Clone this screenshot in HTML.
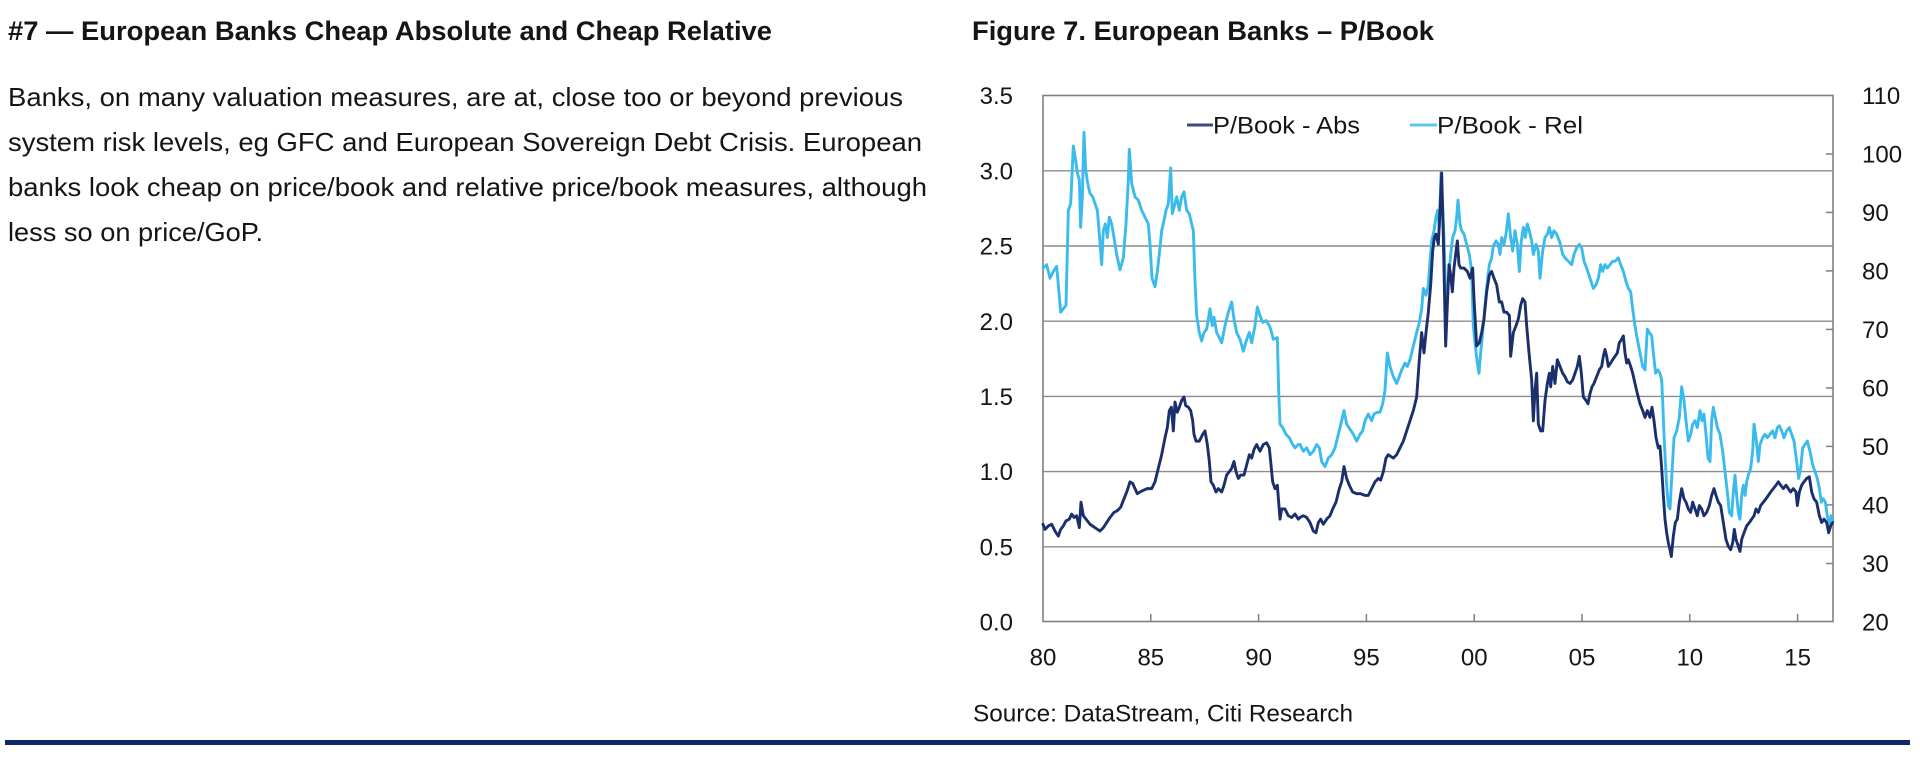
<!DOCTYPE html>
<html>
<head>
<meta charset="utf-8">
<style>
  html, body { margin: 0; padding: 0; background: #ffffff; }
  body { width: 1920px; height: 783px; overflow: hidden; }
  svg { display: block; }
  .t { font-family: "Liberation Sans Narrow", "Liberation Sans", Arial, sans-serif; fill: #151515; }
  .b { font-weight: bold; }
  .ax { font-family: "Liberation Sans", Arial, sans-serif; font-size: 24px; fill: #151515; }
</style>
</head>
<body>
<svg width="1920" height="783" viewBox="0 0 1920 783" xmlns="http://www.w3.org/2000/svg">
  <rect x="0" y="0" width="1920" height="783" fill="#ffffff"/>

  <!-- Left column text -->
  <text class="t b" x="8" y="40" font-size="27" textLength="764" lengthAdjust="spacingAndGlyphs">#7 — European Banks Cheap Absolute and Cheap Relative</text>
  <text class="t" x="8" y="106" font-size="26" textLength="895" lengthAdjust="spacingAndGlyphs">Banks, on many valuation measures, are at, close too or beyond previous</text>
  <text class="t" x="8" y="151" font-size="26" textLength="914" lengthAdjust="spacingAndGlyphs">system risk levels, eg GFC and European Sovereign Debt Crisis. European</text>
  <text class="t" x="8" y="196" font-size="26" textLength="919" lengthAdjust="spacingAndGlyphs">banks look cheap on price/book and relative price/book measures, although</text>
  <text class="t" x="8" y="241" font-size="26" textLength="255" lengthAdjust="spacingAndGlyphs">less so on price/GoP.</text>

  <!-- Figure title -->
  <text class="t b" x="972" y="40" font-size="27" textLength="462" lengthAdjust="spacingAndGlyphs">Figure 7. European Banks – P/Book</text>

  <!-- Gridlines -->
  <g stroke="#8c8c8c" stroke-width="1.4">
    <line x1="1043" y1="170.8" x2="1833" y2="170.8"/>
    <line x1="1043" y1="246" x2="1833" y2="246"/>
    <line x1="1043" y1="321.2" x2="1833" y2="321.2"/>
    <line x1="1043" y1="396.4" x2="1833" y2="396.4"/>
    <line x1="1043" y1="471.6" x2="1833" y2="471.6"/>
    <line x1="1043" y1="546.8" x2="1833" y2="546.8"/>
  </g>

  <!-- Plot border -->
  <rect x="1043" y="95.5" width="790" height="526" fill="none" stroke="#808080" stroke-width="1.6"/>

  <!-- X ticks -->
  <g stroke="#808080" stroke-width="1.5">
    <line x1="1150.8" y1="621.5" x2="1150.8" y2="614"/>
    <line x1="1258.6" y1="621.5" x2="1258.6" y2="614"/>
    <line x1="1366.4" y1="621.5" x2="1366.4" y2="614"/>
    <line x1="1474.2" y1="621.5" x2="1474.2" y2="614"/>
    <line x1="1582" y1="621.5" x2="1582" y2="614"/>
    <line x1="1689.8" y1="621.5" x2="1689.8" y2="614"/>
    <line x1="1797.6" y1="621.5" x2="1797.6" y2="614"/>
  </g>
  <!-- Right ticks -->
  <g stroke="#808080" stroke-width="1.5">
    <line x1="1833" y1="154" x2="1826" y2="154"/>
    <line x1="1833" y1="212.4" x2="1826" y2="212.4"/>
    <line x1="1833" y1="270.9" x2="1826" y2="270.9"/>
    <line x1="1833" y1="329.4" x2="1826" y2="329.4"/>
    <line x1="1833" y1="387.9" x2="1826" y2="387.9"/>
    <line x1="1833" y1="446.4" x2="1826" y2="446.4"/>
    <line x1="1833" y1="504.9" x2="1826" y2="504.9"/>
    <line x1="1833" y1="563.5" x2="1826" y2="563.5"/>
  </g>

  <!-- Left axis labels -->
  <g class="ax" text-anchor="end">
    <text x="1013" y="104.2">3.5</text>
    <text x="1013" y="179.4">3.0</text>
    <text x="1013" y="254.6">2.5</text>
    <text x="1013" y="329.8">2.0</text>
    <text x="1013" y="405">1.5</text>
    <text x="1013" y="480.2">1.0</text>
    <text x="1013" y="555.4">0.5</text>
    <text x="1013" y="630.6">0.0</text>
  </g>
  <!-- Right axis labels -->
  <g class="ax" text-anchor="start">
    <text x="1862" y="104">110</text>
    <text x="1862" y="162.6">100</text>
    <text x="1862" y="221">90</text>
    <text x="1862" y="279.5">80</text>
    <text x="1862" y="338">70</text>
    <text x="1862" y="396.5">60</text>
    <text x="1862" y="455">50</text>
    <text x="1862" y="513.5">40</text>
    <text x="1862" y="572">30</text>
    <text x="1862" y="630.6">20</text>
  </g>
  <!-- X labels -->
  <g class="ax" text-anchor="middle">
    <text x="1043" y="665.6">80</text>
    <text x="1150.8" y="665.6">85</text>
    <text x="1258.6" y="665.6">90</text>
    <text x="1366.4" y="665.6">95</text>
    <text x="1474.2" y="665.6">00</text>
    <text x="1582" y="665.6">05</text>
    <text x="1689.8" y="665.6">10</text>
    <text x="1797.6" y="665.6">15</text>
  </g>

  <!-- Series: P/Book - Rel (light blue) -->
  <g fill="none" stroke="#3bbbec" stroke-width="2.9" stroke-linejoin="round" stroke-linecap="round">
    <g transform="translate(1040,95) scale(0.333333,0.33933)">
      <polyline vector-effect="non-scaling-stroke" points="9,510 20,500 30,540 40,520 50,505 55,560 62,640 70,630 78,620 85,340 92,320 100,150 108,200 112,230 118,250 122,390 127,300 132,110 137,220 143,260 150,290 158,300 165,320 172,340 178,410 185,500 190,400 196,380 202,420 208,360 215,380 222,420 230,470 240,515 250,480 258,380 265,250 268,160 275,260 285,300 295,310 305,340 315,360 325,380 330,440 336,540 345,565 352,520 360,450 365,400 372,370 378,340 385,320 392,215 397,350 405,320 410,300 418,340 425,300 432,285 440,340 448,350 455,380 460,400 465,550 470,650 478,700 485,725 492,700 500,690 510,630 517,680 522,655 530,700 538,715 545,730 555,680 565,640 575,610 582,660 590,700 600,720 610,755 620,720 628,700 635,730 645,680 652,625 660,650 668,670 678,665 688,680 692,690 700,720 712,715 716,870 720,970 728,980 738,1000 748,1010 758,1030 765,1040 775,1030 780,1030"/>
    </g>
    <g transform="translate(1300,95) scale(0.333333,0.33933)">
      <polyline vector-effect="non-scaling-stroke" points="0,1030 10,1050 20,1040 30,1060 40,1050 50,1030 58,1040 65,1080 75,1095 85,1070 95,1060 105,1040 115,1000 125,960 132,930 140,970 150,985 160,1000 170,1020 180,1000 188,990 195,960 205,940 215,960 222,940 232,935 240,935 248,910 255,870 262,760 270,800 280,830 290,850 298,830 305,810 315,790 322,800 330,780 340,740 350,700 358,670 365,630 370,570 378,590 385,560 390,490 395,430 402,400 408,360 413,340 418,390 423,230 428,330 432,420 437,600 442,580 448,520 452,470 458,420 465,400 470,360 474,310 480,380 485,400 492,410 500,440 508,470 515,520 520,680 526,740 532,790 537,820 542,760 548,700 555,620 562,550 568,500 575,480 580,445 588,430 595,440 600,470 605,420 612,440 618,410 625,350 632,420 638,460 645,400 652,440 658,520 664,430 670,390 676,420 682,380 688,400 695,430 700,470 708,440 715,460 720,540 728,460 735,420 742,410 748,390 755,420 762,400 770,410 780,435"/>
    </g>
    <g transform="translate(1560,95) scale(0.333333,0.33933)">
      <polyline vector-effect="non-scaling-stroke" points="0,435 8,470 15,480 25,490 35,500 42,470 50,450 58,440 65,450 72,490 80,510 90,540 100,570 108,560 115,540 122,500 128,520 135,500 142,510 150,500 158,490 165,490 175,480 182,500 190,520 198,550 205,570 212,580 218,630 225,680 232,720 240,760 248,800 255,810 262,690 268,700 275,710 280,760 287,820 293,810 300,820 305,840 308,900 312,1000 316,1080 320,1150 325,1210 330,1220 335,1130 342,1010 350,990 358,950 365,860 372,900 378,960 385,1020 392,1000 398,970 405,960 412,980 420,930 426,960 432,940 438,1000 444,1070 450,1080 455,960 460,920 466,950 472,980 480,1000 488,1050 495,1110 502,1170 508,1230 515,1240 520,1170 525,1120 530,1180 535,1230 540,1250 545,1180 550,1150 555,1180 560,1140 565,1120 572,1100 578,1050 582,970 588,1010 595,1080 600,1030 608,1010 615,1000 622,1010 630,1000 638,990 645,1010 652,980 658,975 665,990 672,1010 680,990 688,980 695,1000 702,1020 710,1080 716,1130 722,1100 728,1040 735,1030 742,1020 750,1050 758,1090 765,1110 772,1130 778,1160 784,1200 790,1190 796,1200 802,1240 808,1270 813,1240 818,1250"/>
    </g>
  </g>

  <!-- Series: P/Book - Abs (dark navy) -->
  <g fill="none" stroke="#1b2f6d" stroke-width="2.9" stroke-linejoin="round" stroke-linecap="round">
    <g transform="translate(1040,95) scale(0.333333,0.33933)">
      <polyline vector-effect="non-scaling-stroke" points="9,1265 15,1280 25,1270 35,1265 45,1285 55,1300 62,1280 70,1270 78,1255 88,1250 95,1235 102,1245 110,1240 118,1275 123,1200 130,1240 138,1250 150,1265 165,1275 180,1285 190,1275 200,1260 210,1245 222,1230 232,1225 242,1215 252,1190 262,1165 270,1140 278,1145 285,1160 292,1175 300,1170 310,1165 322,1160 335,1160 345,1140 355,1100 365,1060 375,1010 382,980 388,930 394,920 400,990 405,905 412,935 418,920 425,900 432,890 437,915 445,920 452,930 458,960 462,1000 468,1020 478,1020 488,1000 495,990 502,1030 508,1080 513,1140 520,1150 528,1170 535,1160 545,1170 552,1150 560,1120 568,1110 575,1100 582,1080 588,1110 595,1130 602,1120 612,1120 620,1090 628,1060 635,1070 642,1045 650,1030 660,1050 670,1030 680,1025 688,1040 692,1080 698,1140 705,1160 712,1150 720,1250 725,1220 735,1220 745,1240 755,1245 765,1235 775,1250 780,1245"/>
    </g>
    <g transform="translate(1300,95) scale(0.333333,0.33933)">
      <polyline vector-effect="non-scaling-stroke" points="0,1245 10,1240 20,1245 30,1260 40,1285 48,1290 55,1260 62,1250 70,1265 80,1250 90,1240 98,1220 108,1200 118,1160 125,1140 132,1095 140,1130 148,1150 158,1170 170,1175 182,1175 195,1180 205,1180 215,1160 225,1140 235,1130 242,1135 250,1110 258,1070 265,1060 272,1065 280,1070 290,1060 300,1040 310,1020 320,990 330,960 340,930 350,890 358,780 365,700 372,760 378,700 385,640 392,560 398,460 403,420 408,410 415,440 420,340 425,230 430,420 433,560 437,740 442,620 447,500 452,530 457,580 462,510 467,470 472,430 477,500 482,510 492,510 502,520 510,540 518,510 522,600 530,740 538,730 545,700 552,660 560,580 568,530 575,520 582,540 590,560 598,610 605,610 612,640 620,640 628,650 632,770 640,700 648,680 655,660 662,620 668,600 675,610 680,680 688,770 695,840 700,960 705,870 710,820 715,970 722,990 728,990 735,900 742,850 748,820 752,860 758,800 765,850 772,780 780,800"/>
    </g>
    <g transform="translate(1560,95) scale(0.333333,0.33933)">
      <polyline vector-effect="non-scaling-stroke" points="0,800 8,820 15,830 22,845 30,850 38,840 45,820 52,800 58,770 64,820 70,890 78,900 84,910 90,880 96,860 102,850 110,830 118,810 125,800 130,770 135,750 140,770 145,800 152,790 158,780 165,770 172,760 178,730 185,720 190,710 195,760 200,790 205,780 212,800 218,820 225,850 232,880 240,910 248,930 255,950 262,930 270,950 276,920 282,960 288,1010 295,1040 300,1035 305,1100 310,1180 315,1250 320,1290 325,1320 330,1340 334,1360 340,1300 346,1260 352,1250 358,1200 365,1160 372,1190 378,1200 385,1220 392,1230 398,1200 405,1220 412,1240 418,1210 425,1220 432,1240 440,1230 448,1210 455,1180 462,1160 468,1180 475,1200 482,1210 490,1260 498,1310 505,1330 512,1340 518,1320 523,1280 528,1310 535,1330 540,1345 545,1310 552,1290 560,1270 568,1260 575,1250 582,1240 588,1220 595,1230 602,1210 610,1200 618,1190 625,1180 632,1170 640,1160 648,1150 655,1140 662,1150 670,1160 678,1150 685,1160 692,1170 700,1160 708,1170 712,1210 718,1170 725,1150 732,1140 740,1130 748,1125 755,1170 762,1190 770,1200 778,1240 785,1260 792,1250 800,1260 806,1290 812,1270 818,1260"/>
    </g>
  </g>

  <!-- Legend -->
  <line x1="1187" y1="125" x2="1213" y2="125" stroke="#3a4a80" stroke-width="3"/>
  <text class="ax" x="1213" y="133.6" textLength="147" lengthAdjust="spacingAndGlyphs">P/Book - Abs</text>
  <line x1="1410" y1="125" x2="1437" y2="125" stroke="#5cc6ef" stroke-width="3"/>
  <text class="ax" x="1437" y="133.6" textLength="146" lengthAdjust="spacingAndGlyphs">P/Book - Rel</text>

  <!-- Source -->
  <text class="ax" x="973" y="721.6" textLength="380" lengthAdjust="spacingAndGlyphs">Source: DataStream, Citi Research</text>

  <!-- Bottom rule -->
  <rect x="5" y="740" width="1905" height="5" fill="#10286b"/>
</svg>
</body>
</html>
